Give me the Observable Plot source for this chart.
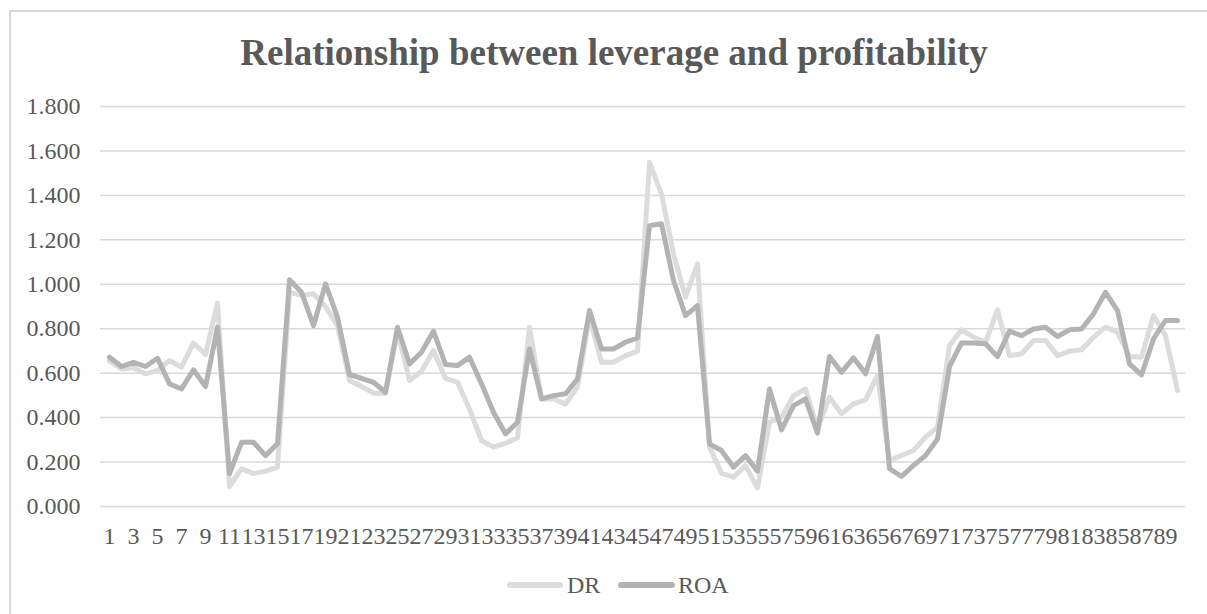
<!DOCTYPE html>
<html>
<head>
<meta charset="utf-8">
<script src="https://cdn.jsdelivr.net/npm/d3@7"></script>
<script src="https://cdn.jsdelivr.net/npm/@observablehq/plot@0.6"></script>
<style>
  html, body { margin: 0; padding: 0; background: #ffffff; }
  #wrap { position: relative; width: 1207px; height: 614px; overflow: hidden; background: #ffffff;
          font-family: "Liberation Serif", "Times New Roman", serif; color: #595959; }
  #border { position: absolute; left: 9px; top: 10px; width: 1220px; height: 630px;
            border: 2px solid #d9d9d9; box-sizing: border-box; }
  #chart { position: absolute; left: 0; top: 0; }
  #title { position: absolute; left: 614px; top: 34px; transform: translateX(-50%);
           font-size: 37px; line-height: 37px; font-weight: bold; white-space: nowrap; color: #595959; }
  .sw { position: absolute; height: 6px; border-radius: 3px; top: 582px; }
  .lg { position: absolute; top: 573px; font-size: 24px; line-height: 24px; white-space: nowrap; color: #595959; }
</style>
</head>
<body>
<div id="wrap">
  <div id="border"></div>
  <div id="chart"></div>
  <div id="title">Relationship between leverage and profitability</div>
  <div class="sw" style="left:507px;width:56px;background:#dcdcdc"></div>
  <div class="lg" style="left:567px">DR</div>
  <div class="sw" style="left:618px;width:57px;background:#b3b3b3"></div>
  <div class="lg" style="left:678px">ROA</div>
</div>
<script>
// ---- data ----
const categories = [
  1,2,3,4,5,6,7,8,9,10,11,12,13,14,15,16,17,18,19,20,
  21,22,23,24,25,26,27,28,29,30,31,32,33,34,35,36,37,38,39,40,
  41,42,43,44,45,46,47,48,49,50,51,52,53,54,55,56,57,58,59,60,
  61,62,63,64,65,66,67,68,69,70,71,72,73,74,75,76,77,78,79,80,
  81,82,83,84,85,86,87,88,89,90
];
const xTickLabels = [1,3,5,7,9,11,13,15,17,19,21,23,25,27,29,31,33,35,37,39,41,43,45,47,49,51,53,55,57,59,61,63,65,67,69,71,73,75,77,79,81,83,85,87,89];
const yTickValues = [0, 0.2, 0.4, 0.6, 0.8, 1.0, 1.2, 1.4, 1.6, 1.8];
const seriesNames = ["DR", "ROA"];

const DR = [
  0.655, 0.619, 0.624, 0.597, 0.612, 0.657, 0.627, 0.736, 0.684, 0.915,
  0.090, 0.170, 0.148, 0.159, 0.177, 0.964, 0.950, 0.957, 0.900, 0.814,
  0.567, 0.540, 0.510, 0.510, 0.790, 0.567, 0.609, 0.702, 0.577, 0.559,
  0.439, 0.297, 0.267, 0.285, 0.309, 0.807, 0.484, 0.484, 0.462, 0.537,
  0.852, 0.649, 0.649, 0.679, 0.699, 1.549, 1.406, 1.137, 0.942, 1.092,
  0.267, 0.150, 0.132, 0.184, 0.084, 0.380, 0.402, 0.499, 0.529, 0.350,
  0.492, 0.417, 0.462, 0.480, 0.589, 0.207, 0.230, 0.252, 0.312, 0.357,
  0.724, 0.795, 0.762, 0.739, 0.885, 0.679, 0.687, 0.747, 0.747, 0.679,
  0.699, 0.705, 0.762, 0.807, 0.784, 0.675, 0.672, 0.859, 0.769, 0.522
];
const ROA = [
  0.672, 0.630, 0.649, 0.630, 0.667, 0.552, 0.529, 0.615, 0.540, 0.807,
  0.148, 0.289, 0.289, 0.229, 0.282, 1.020, 0.964, 0.814, 1.002, 0.852,
  0.594, 0.577, 0.559, 0.514, 0.807, 0.642, 0.694, 0.789, 0.639, 0.634,
  0.672, 0.552, 0.424, 0.327, 0.379, 0.709, 0.484, 0.499, 0.507, 0.574,
  0.882, 0.709, 0.709, 0.739, 0.759, 1.264, 1.272, 1.017, 0.859, 0.904,
  0.282, 0.252, 0.177, 0.229, 0.159, 0.529, 0.345, 0.454, 0.484, 0.330,
  0.675, 0.604, 0.669, 0.597, 0.765, 0.170, 0.135, 0.185, 0.229, 0.304,
  0.630, 0.736, 0.736, 0.732, 0.675, 0.789, 0.769, 0.799, 0.807, 0.765,
  0.795, 0.799, 0.867, 0.964, 0.882, 0.642, 0.592, 0.754, 0.837, 0.837
];

// ---- table ----
const drRows = categories.map((c, i) => ({cat: c, value: DR[i], series: seriesNames[0]}));
const roaRows = categories.map((c, i) => ({cat: c, value: ROA[i], series: seriesNames[1]}));

const lineStyle = {strokeWidth: 5, strokeLinejoin: "round", strokeLinecap: "round"};

const chart = Plot.plot({
  width: 1207,
  height: 614,
  marginLeft: 100,
  marginRight: 22,
  marginTop: 106,
  marginBottom: 108,
  style: {
    fontFamily: "'Liberation Serif', 'Times New Roman', serif",
    fontSize: "24px",
    color: "#595959",
    background: "transparent",
    overflow: "visible"
  },
  x: {type: "point", domain: categories, padding: 0.5},
  y: {domain: [0, 1.8]},
  marks: [
    Plot.gridY(yTickValues, {stroke: "#d9d9d9", strokeOpacity: 1, strokeWidth: 1.5}),
    Plot.axisY(yTickValues, {tickSize: 0, tickPadding: 20, tickFormat: d3.format(".3f"), label: null, fontSize: 24}),
    Plot.axisX(xTickLabels, {tickSize: 0, tickPadding: 20, label: null, fontSize: 24}),
    Plot.line(drRows, {x: "cat", y: "value", stroke: "#dcdcdc", ...lineStyle}),
    Plot.line(roaRows, {x: "cat", y: "value", stroke: "#b3b3b3", ...lineStyle})
  ]
});
document.getElementById("chart").appendChild(chart);
</script>
</body>
</html>
